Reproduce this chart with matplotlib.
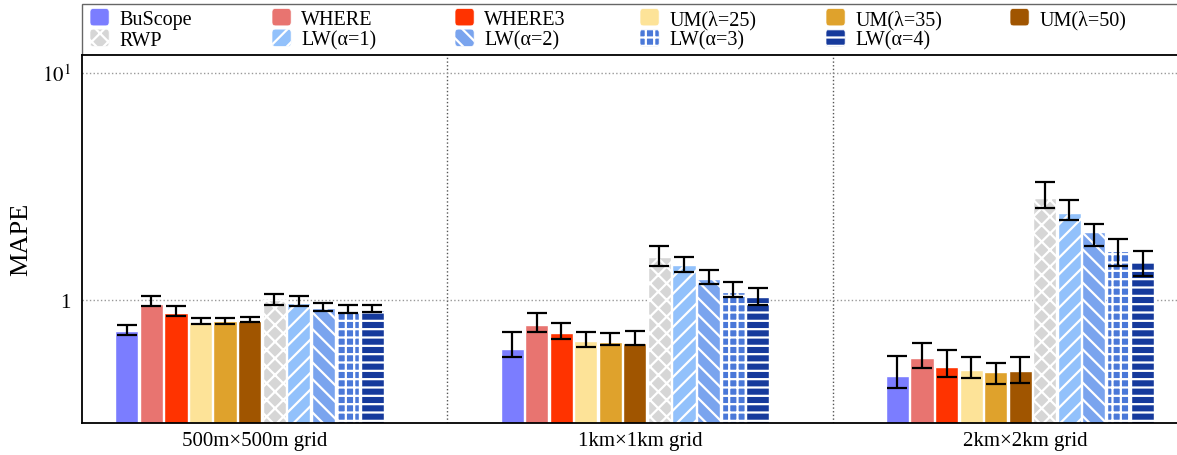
import numpy as np
import matplotlib
matplotlib.use("Agg")
import matplotlib.pyplot as plt
from matplotlib.patches import FancyBboxPatch, Rectangle
from matplotlib.legend_handler import HandlerPatch

plt.rcParams['font.family'] = ['Liberation Serif', 'DejaVu Serif']
plt.rcParams['mathtext.fontset'] = 'stix'
plt.rcParams['hatch.linewidth'] = 1.6


# data
methods = ['BuScope', 'WHERE', 'WHERE3', 'UM(λ=25)', 'UM(λ=35)', 'UM(λ=50)',
           'RWP', 'LW(α=1)', 'LW(α=2)', 'LW(α=3)', 'LW(α=4)']
grids = ['500m×500m grid', '1km×1km grid', '2km×2km grid']

mape_500 = [0.731, 0.961, 0.877, 0.800, 0.803, 0.806, 0.994, 0.967, 0.916, 0.895, 0.904]
low_500 = [0.699, 0.938, 0.848, 0.784, 0.784, 0.795, 0.951, 0.938, 0.892, 0.874, 0.880]
high_500 = [0.776, 1.042, 0.941, 0.833, 0.831, 0.842, 1.060, 1.042, 0.964, 0.951, 0.948]

mape_1km = [0.606, 0.774, 0.711, 0.656, 0.649, 0.645, 1.537, 1.422, 1.234, 1.085, 1.028]
low_1km = [0.556, 0.721, 0.671, 0.619, 0.632, 0.630, 1.408, 1.325, 1.169, 1.028, 0.944]
high_1km = [0.718, 0.877, 0.790, 0.723, 0.716, 0.731, 1.730, 1.548, 1.356, 1.201, 1.130]

mape_2km = [0.460, 0.552, 0.504, 0.492, 0.479, 0.485, 2.797, 2.417, 1.981, 1.639, 1.461]
low_2km = [0.406, 0.502, 0.456, 0.453, 0.425, 0.428, 2.526, 2.237, 1.719, 1.408, 1.276]
high_2km = [0.563, 0.647, 0.602, 0.561, 0.524, 0.561, 3.311, 2.740, 2.162, 1.851, 1.644]

colors = ['#7b7dff', '#e87470', '#ff3300', '#fde398', '#dfa22c', '#a05500',
          '#d6d6d6', '#92c1fb', '#7aa4ee', '#4a78d8', '#163a9c']
hatches = [None, None, None, None, None, None, 'xx', '//', '\\\\', '++', '--']

values = np.array([mape_500, mape_1km, mape_2km])
lows = np.array([low_500, low_1km, low_2km])
highs = np.array([high_500, high_1km, high_2km])


class RoundHandler(HandlerPatch):
    def create_artists(self, legend, orig_handle, xdescent, ydescent,
                       width, height, fontsize, trans):
        p = FancyBboxPatch((-xdescent, -ydescent), width, height,
                           boxstyle='round,pad=0,rounding_size=2.5',
                           facecolor=orig_handle.get_facecolor(),
                           edgecolor='white', linewidth=0.5,
                           hatch=orig_handle.get_hatch(), transform=trans)
        return [p]


W, H = 1177, 456
fig = plt.figure(figsize=(W / 100, H / 100), dpi=100)
ax = fig.add_axes([82 / W, 1 - 424 / H, 1100 / W, (424 - 55.7) / H])

x = np.arange(len(grids))
step = 0.0637
width = 0.06
shift = -0.013
bars = []
for i, m in enumerate(methods):
    xi = x + (i - 5) * step + shift
    b = ax.bar(xi, values[:, i], width, color=colors[i], hatch=hatches[i],
               edgecolor='white', linewidth=1.0, label=m, zorder=2)
    bars.append(b)
    yerr = [values[:, i] - lows[:, i], highs[:, i] - values[:, i]]
    ax.errorbar(xi, values[:, i], yerr=yerr, fmt='none', ecolor='black',
                elinewidth=1.6, capsize=7, capthick=1.6, zorder=3)

ax.set_yscale('log')
ax.set_ylim(0.286, 12.0)
ax.set_xlim(-0.448, 2.407)
ax.set_yticks([1, 10], labels=['1', r'$10^1$'])
ax.yaxis.set_minor_locator(matplotlib.ticker.NullLocator())
ax.set_xticks(x, labels=grids)
ax.set_xticks([0.5, 1.5], minor=True)
ax.tick_params(axis='both', which='both', length=0, labelsize=15)
ax.tick_params(axis='x', pad=6)
ax.tick_params(axis='y', pad=8)
ax.set_ylabel('MAPE', fontsize=19, labelpad=7)

ax.grid(axis='y', which='major', linestyle=':', color='#999999', linewidth=1, zorder=0)
ax.grid(axis='x', which='minor', linestyle=':', color='#555555', linewidth=1, zorder=0)
ax.set_axisbelow(True)
for s in ax.spines.values():
    s.set_linewidth(1.3)

# legend: a framed strip above the axes, six equal columns filled row by row
fig.patches.append(Rectangle((82 / W, 1 - 55.7 / H), 1 - 82 / W + 0.01, (55.7 - 4.5) / H,
                             transform=fig.transFigure, facecolor='none',
                             edgecolor='#666666', linewidth=1.0, zorder=-1))
col_x = [90, 272, 455, 640, 826, 1010]
for c in range(6):
    idx = [c, c + 6] if c + 6 < len(methods) else [c]
    leg = ax.legend([bars[k].patches[0] for k in idx], [methods[k] for k in idx],
                    loc='upper left', bbox_to_anchor=(col_x[c] / W, 1 - 9.5 / H),
                    bbox_transform=fig.transFigure, frameon=False, fontsize=14.5,
                    borderpad=0, borderaxespad=0, handlelength=0.95,
                    handleheight=0.95, handletextpad=0.5, labelspacing=0.0,
                    handler_map={matplotlib.patches.Rectangle: RoundHandler()})
    if c < 5:
        ax.add_artist(leg)

fig.savefig('out.png', dpi=100)
